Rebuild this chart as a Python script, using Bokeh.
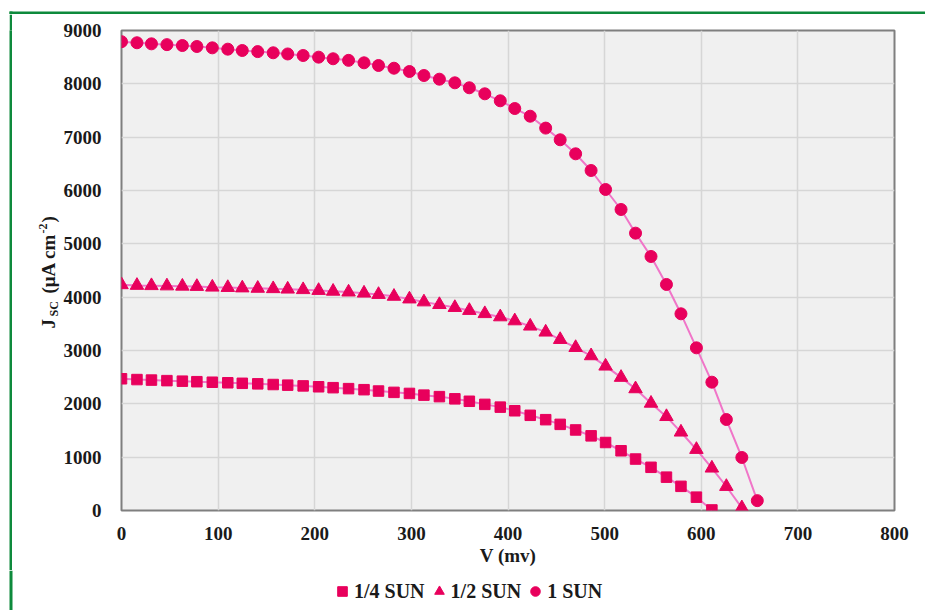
import math
from bokeh.plotting import figure
from bokeh.layouts import column, row
from bokeh.models import Range1d, Legend, LegendItem, FixedTicker, Spacer
from bokeh.core.properties import value
from bokeh.embed import file_html
from bokeh.resources import INLINE

# ---------------- data ----------------
v_mv = [0, 16, 31, 47, 63, 78, 94, 110, 125, 141, 157, 172, 188, 204, 219,
        235, 251, 266, 282, 298, 313, 329, 345, 360, 376, 392, 407, 423, 439,
        454, 470, 486, 501, 517, 532, 548, 564, 579, 595, 611, 626, 642, 658]

j_quarter = [2470, 2455, 2445, 2435, 2425, 2415, 2405, 2395, 2385, 2375,
             2362, 2350, 2336, 2320, 2303, 2285, 2265, 2240, 2215, 2195,
             2163, 2135, 2094, 2048, 1990, 1938, 1870, 1785, 1703, 1615,
             1510, 1400, 1275, 1120, 965, 810, 625, 453, 250, 10]

j_half = [4232, 4220, 4215, 4210, 4205, 4200, 4187, 4180, 4172, 4165,
          4158, 4150, 4140, 4125, 4110, 4095, 4075, 4050, 4015, 3965,
          3910, 3860, 3805, 3750, 3690, 3630, 3555, 3456, 3344, 3205,
          3055, 2900, 2706, 2495, 2281, 2010, 1760, 1469, 1144, 794,
          450, 50]

j_one = [8790, 8770, 8750, 8735, 8718, 8700, 8675, 8650, 8625, 8604,
         8582, 8560, 8531, 8500, 8470, 8440, 8394, 8344, 8293, 8231,
         8156, 8087, 8019, 7926, 7813, 7682, 7537, 7393, 7170, 6951,
         6688, 6375, 6019, 5644, 5200, 4763, 4238, 3688, 3050, 2406,
         1706, 994, 185]

series_names = ["1/4 SUN", "1/2 SUN", "1 SUN"]
x_ticks = [0, 100, 200, 300, 400, 500, 600, 700, 800]
y_ticks = [0, 1000, 2000, 3000, 4000, 5000, 6000, 7000, 8000, 9000]

# ---------------- styling ----------------
FONT = "Liberation Serif"
TXT = "#1a1a1a"
MARK = "#e8005c"
LINE = "#f075c8"
GREEN = "#0e8a3c"

W, H = 925, 610
TOP_H = 14          # strip holding the green top rule
GAP_W, RULE_W = 9, 3  # white margin and green rule at the left edge
LAB_X0 = GAP_W + RULE_W
LAB_W = 60 - LAB_X0   # column holding the rotated y-axis title
LEG_H = 40          # strip holding the legend
FL, FR, FT, FB = 120, 893, 30, 510   # plot frame in page px
MID_H = H - TOP_H - LEG_H
BORDER_TOP = FT - TOP_H


def blank(width, height, xr, yr, top_border=0, fill="white"):
    f = figure(width=width, height=height, output_backend="svg",
               toolbar_location=None, x_range=xr, y_range=yr)
    f.frame_width = width
    f.frame_height = height - top_border
    f.min_border = 0
    f.min_border_left = f.min_border_right = 0
    f.min_border_bottom = 0
    f.min_border_top = top_border
    f.axis.visible = False
    f.grid.visible = False
    f.outline_line_color = None
    f.background_fill_color = fill
    f.border_fill_color = fill
    return f


# top strip with the green frame rule
top = blank(W, TOP_H, Range1d(0, W), Range1d(TOP_H, 0))
top.quad(left=[GAP_W, GAP_W], right=[W, LAB_X0], top=[11, 11],
         bottom=[14, TOP_H], fill_color=GREEN, line_color=None)

# left margin + green rule (a plain green canvas)
gap = Spacer(width=GAP_W, height=MID_H)
rule = blank(RULE_W, MID_H, Range1d(0, 1), Range1d(0, 1),
             top_border=BORDER_TOP, fill=GREEN)

# y-axis title J_SC (μA cm^-2); its frame lines up with the chart frame
lab_fh = MID_H - BORDER_TOP
lab = blank(LAB_W, MID_H, Range1d(0, LAB_W), Range1d(lab_fh, 0),
            top_border=BORDER_TOP)
pieces = [  # text, page y of its lower end, page x centre, font size
    ("J", 328, 48, "19px"),
    ("SC", 316, 53, "12px"),
    ("(μA cm", 293, 48, "19px"),
    ("-2", 233, 42, "12px"),
    (")", 222, 48, "19px"),
]
for txt, py, px, sz in pieces:
    lab.text(x=[px - LAB_X0], y=[py - FT], text=[txt], angle=math.pi / 2,
             text_font=value(FONT), text_font_style="bold",
             text_font_size=value(sz), text_color=TXT,
             text_align="left", text_baseline="middle")

# main chart
p = figure(width=W - 60, height=MID_H, output_backend="svg",
           toolbar_location=None, x_range=Range1d(0, 800),
           y_range=Range1d(0, 9000))
p.frame_width = FR - FL
p.frame_height = FB - FT
p.min_border_left = FL - 60
p.min_border_right = W - FR
p.min_border_top = BORDER_TOP
p.min_border_bottom = (H - LEG_H) - FB
p.background_fill_color = "#f0f0f0"
p.border_fill_color = "white"
p.outline_line_color = "#7f7f7f"
p.outline_line_width = 2

for ax in (p.xaxis[0], p.yaxis[0]):
    ax.major_label_text_font = FONT
    ax.major_label_text_font_style = "bold"
    ax.major_label_text_font_size = "19px"
    ax.major_label_text_color = TXT
    ax.axis_line_color = None
    ax.major_tick_line_color = None
    ax.minor_tick_line_color = None
p.xaxis.major_label_standoff = 10
p.yaxis.major_label_standoff = 14
p.xaxis.ticker = FixedTicker(ticks=x_ticks)
p.yaxis.ticker = FixedTicker(ticks=y_ticks)
p.xaxis.axis_label = "V (mv)"
p.xaxis.axis_label_text_font = FONT
p.xaxis.axis_label_text_font_style = "bold"
p.xaxis.axis_label_text_font_size = "19px"
p.xaxis.axis_label_text_color = TXT
p.xaxis.axis_label_standoff = 2

p.grid.grid_line_color = "#d6d6d6"
p.grid.grid_line_width = 1.5

p.line(v_mv[:len(j_quarter)], j_quarter, line_color=LINE, line_width=2)
p.scatter(v_mv[:len(j_quarter)], j_quarter, marker="square", size=10.5,
          fill_color=MARK, line_color=MARK)
p.line(v_mv[:len(j_half)], j_half, line_color=LINE, line_width=2)
p.scatter(v_mv[:len(j_half)], j_half, marker="triangle", size=13.5,
          fill_color=MARK, line_color=MARK)
p.line(v_mv[:len(j_one)], j_one, line_color=LINE, line_width=2)
p.scatter(v_mv[:len(j_one)], j_one, marker="circle", size=12,
          fill_color=MARK, line_color=MARK)

# bottom strip: green frame rule + legend (legend glyphs styled like series)
leg = blank(W, LEG_H, Range1d(0, W), Range1d(LEG_H, 0))
leg.quad(left=[GAP_W], right=[LAB_X0], top=[0], bottom=[LEG_H],
         fill_color=GREEN, line_color=None)
items = []
for name, mk in zip(series_names, ["square", "triangle", "circle"]):
    # one point kept outside the visible range: only the legend glyph shows
    sr = leg.scatter(x=[-50], y=[-50], marker=mk, size=11, fill_color=MARK,
                     line_color=MARK)
    items.append(LegendItem(label=name, renderers=[sr]))
legend = Legend(items=items, orientation="horizontal", location=(330, 7),
                label_text_font=FONT, label_text_font_style="bold",
                label_text_font_size="20px", label_text_color=TXT,
                glyph_width=24, glyph_height=24, label_standoff=-4, spacing=2,
                padding=0, margin=0, border_line_color=None,
                background_fill_alpha=0)
leg.add_layout(legend, "center")

layout = column(top, row(gap, rule, lab, p), leg)
open("out.html", "w").write(file_html(layout, INLINE))
